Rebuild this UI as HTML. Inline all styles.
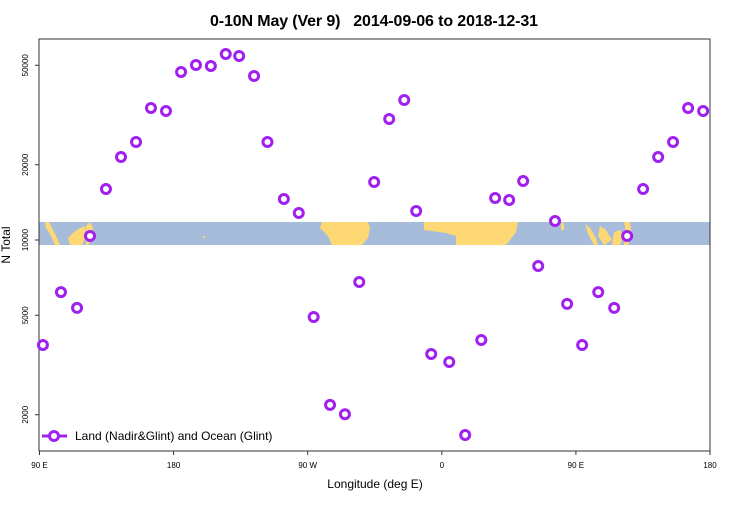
<!DOCTYPE html>
<html><head><meta charset="utf-8"><style>
body{margin:0;background:#fff;font-family:"Liberation Sans",sans-serif}
svg text{font-family:"Liberation Sans",sans-serif}
</style></head><body>
<svg id="chart" width="750" height="500" viewBox="0 0 750 500" xmlns="http://www.w3.org/2000/svg">
<text x="374" y="26" text-anchor="middle" font-size="16" font-weight="bold" textLength="328" xml:space="preserve">0-10N May (Ver 9)   2014-09-06 to 2018-12-31</text>
<g>
<rect x="39" y="222" width="671" height="23" fill="#a7bcda"/>
<g fill="#fed875">
<polygon points="45,222 49,222 58,240 60,245 55,245 50,234 46,228"/>
<polygon points="68,238 74,232 80,228 85,226 86,236 82,245 70,245"/>
<polygon points="86,226 90,222 93,228 92,238 88,245 86,245"/>
<rect x="203" y="236" width="2" height="2"/>
<polygon points="322,222 368,222 370,228 368,238 362,245 332,245 328,236 320,228"/>
<polygon points="424,222 518,222 516,232 510,240 506,245 456,245 456,236 446,233 432,231 424,230"/>
<rect x="561" y="223" width="3" height="7"/>
<polygon points="585,224 590,228 596,238 598,245 594,245 588,234"/>
<polygon points="600,226 606,230 612,240 604,245 598,236"/>
<polygon points="614,232 620,230 624,236 620,245 612,245"/>
<polygon points="624,222 630,222 632,236 628,245 624,245 626,232"/>
</g>
</g>
<rect x="39" y="39" width="671" height="412" fill="none" stroke="#333" stroke-width="1"/>
<g id="axes"></g>
<g id="marks"></g>
<text x="375" y="488" text-anchor="middle" font-size="12">Longitude (deg E)</text>
<text transform="translate(10,245) rotate(-90)" text-anchor="middle" font-size="12">N Total</text>
<g>
<line x1="42" y1="436" x2="67" y2="436" stroke="#a020f0" stroke-width="3"/>
<circle cx="54" cy="436" r="4.5" fill="#fff" stroke="#a020f0" stroke-width="3"/>
<text x="75" y="440" font-size="12">Land (Nadir&amp;Glint) and Ocean (Glint)</text>
</g>
</svg>
<script>
const lons=[92.3,104.4,115.2,123.9,134.6,144.7,154.8,164.8,174.9,185,195,205,215,224,234,243,254,264,274,285,295,304.6,314.6,324.7,334.8,342.8,352.9,365,375.7,386.5,395.8,405.2,414.6,424.7,436,444.1,454.2,465,475.7,484.4,495.1,505.2,515.2,525.3,535.4];
const counts=[3800,6190,5350,10380,16000,21480,24660,33730,32810,46990,50120,49660,55460,54450,45290,24660,14590,12820,4920,2190,2010,6790,17060,30480,36310,13060,3500,3250,1660,3980,14720,14450,17220,7870,11910,5550,3800,6190,5350,10380,16000,21480,24660,33730,32810];
const xTickVals=[90,180,270,360,450,540];
const xTickLabels=["90 E","180","90 W","0","90 E","180"];
const yTickVals=[2000,5000,10000,20000,50000];
const NS="http://www.w3.org/2000/svg";
const X0=39.5,X1=710,L0=90,L1=540;
const xs=v=>X0+(v-L0)/(L1-L0)*(X1-X0);
const ys=v=>240-(Math.log10(v)-4)*250;
const axes=document.getElementById('axes'),marks=document.getElementById('marks');
function mk(t,a,p){const e=document.createElementNS(NS,t);for(const k in a)e.setAttribute(k,a[k]);p.appendChild(e);return e;}
xTickVals.forEach((v,i)=>{
 const g=mk('g',{},axes);
 
 
 mk('line',{x1:xs(v),x2:xs(v),y1:451,y2:455,stroke:'#333'},g);
 const t=mk('text',{x:xs(v),y:468,'font-size':8,'text-anchor':'middle'},g);t.textContent=xTickLabels[i];
});
yTickVals.forEach(v=>{
 const g=mk('g',{},axes);
 
 
 mk('line',{x1:35,x2:39,y1:ys(v),y2:ys(v),stroke:'#333'},g);
 const t=mk('text',{transform:`translate(28,${ys(v)}) rotate(-90)`,'font-size':8,'text-anchor':'middle'},g);t.textContent=v;
});
lons.forEach((l,i)=>{
 const c=mk('circle',{cx:xs(l),cy:ys(counts[i]),r:4.5,fill:'#fff',stroke:'#a020f0','stroke-width':3},marks);
 
 
});
</script>
</body></html>
